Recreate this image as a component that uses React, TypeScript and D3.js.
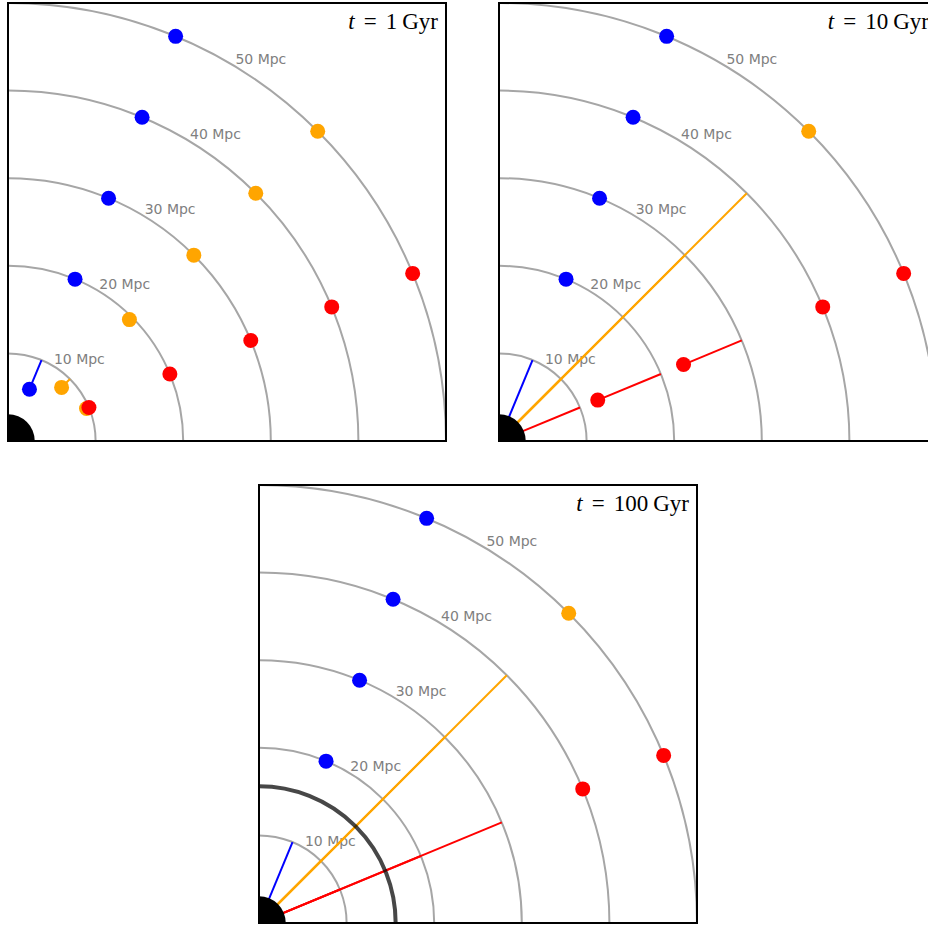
import React from 'react';
import * as d3 from 'd3';

// comoving distances of the source shells (Mpc)
const shellRadii = [10, 20, 30, 40, 50];
const shellLabels = ['10 Mpc', '20 Mpc', '30 Mpc', '40 Mpc', '50 Mpc'];

// direction of each light ray (degrees from the x axis)
const rayAngles = { blue: 67.5, orange: 45, red: 22.5 };
const rayColors = { blue: '#0000ff', orange: '#ffa500', red: '#ff0000' };

// photon position (Mpc) for each source shell, per panel; 0 = arrived
const photons1 = { blue: [6.4, 20, 30, 40, 50], orange: [8.65, 19.6, 30, 40, 50], red: [10, 20, 30, 40, 50] };
const photons10 = { blue: [0, 20, 30, 40, 50], orange: [0, 0, 0, 0, 50], red: [0, 12.2, 22.8, 40, 50] };
const photons100 = { blue: [0, 20, 30, 40, 50], orange: [0, 0, 0, 0, 50], red: [0, 0, 0, 40, 50] };

// stray photon drawn under the red one at 10 Mpc in the first panel
const extra1 = [{ color: 'orange', angle: 22.5, r: 9.7 }];

const panelTimes = ['1', '10', '100'];
const observerRadius = 3.05;
const horizon100 = 15.6;

const SIZE = 438;
const rScale = d3.scaleLinear().domain([0, 50]).range([0, SIZE]);
const LABEL_ANGLE = 58.8;

type Photons = { blue: number[]; orange: number[]; red: number[] };

function Panel({ x, y, time, photons, extra = [], horizon }: {
  x: number; y: number; time: string; photons: Photons;
  extra?: { color: string; angle: number; r: number }[]; horizon?: number;
}) {
  const ox = 0, oy = SIZE;
  const pt = (r: number, deg: number) => {
    const a = (deg * Math.PI) / 180;
    return [ox + rScale(r) * Math.cos(a), oy - rScale(r) * Math.sin(a)];
  };
  const arcPath = (r: number) => {
    const p = d3.path();
    p.arc(ox, oy, rScale(r), -Math.PI / 2, 0);
    return p.toString();
  };
  const clipId = `clip-${time}`;
  const keys = ['blue', 'orange', 'red'] as const;

  return (
    <g transform={`translate(${x},${y})`}>
      <defs>
        <clipPath id={clipId}><rect x={0} y={0} width={SIZE} height={SIZE} /></clipPath>
      </defs>
      <g clipPath={`url(#${clipId})`}>
        {shellRadii.map(r => (
          <path key={r} d={arcPath(r)} fill="none" stroke="#a6a6a6" strokeWidth={2} />
        ))}
        {shellRadii.map((r, i) => {
          const [tx, ty] = pt(r, LABEL_ANGLE);
          return (
            <text key={'l' + r} x={tx + 0.5} y={ty - 6} dominantBaseline="middle"
              fontFamily="DejaVu Sans" fontSize={14} fill="#808080">{shellLabels[i]}</text>
          );
        })}
        {keys.map(k => shellRadii.map((r, i) => {
          const pos = photons[k][i];
          if (pos >= r) return null;
          const [x1, y1] = pt(r, rayAngles[k]);
          const [x2, y2] = pt(pos, rayAngles[k]);
          return <line key={k + 'ln' + r} x1={x1} y1={y1} x2={x2} y2={y2} stroke={rayColors[k]} strokeWidth={2} />;
        }))}
        {extra.map((e, i) => {
          const [cx, cy] = pt(e.r, e.angle);
          return <circle key={'e' + i} cx={cx} cy={cy} r={7.5} fill={rayColors[e.color as 'orange']} />;
        })}
        {keys.map(k => shellRadii.map((r, i) => {
          const [cx, cy] = pt(photons[k][i], rayAngles[k]);
          return <circle key={k + 'pt' + r} cx={cx} cy={cy} r={7.5} fill={rayColors[k]} />;
        }))}
        <circle cx={ox} cy={oy} r={rScale(observerRadius)} fill="#000" />
        {horizon !== undefined && (
          <path d={arcPath(horizon)} fill="none" stroke="#000" strokeOpacity={0.72} strokeWidth={4} />
        )}
      </g>
      <rect x={0} y={0} width={SIZE} height={SIZE} fill="none" stroke="#000" strokeWidth={2} />
      <text x={SIZE - 8} y={26} textAnchor="end" fontFamily="Liberation Serif" fontSize={23} fill="#000">
        <tspan fontStyle="italic">t</tspan>
        <tspan dx={9}>=</tspan>
        <tspan dx={9}>{time}</tspan>
        <tspan dx={5}>Gyr</tspan>
      </text>
    </g>
  );
}

export default function App() {
  return (
    <svg width={928} height={926} style={{ display: 'block', position: 'absolute', left: 0, top: 0 }}>
      <Panel x={8} y={3} time={panelTimes[0]} photons={photons1} extra={extra1} />
      <Panel x={499} y={3} time={panelTimes[1]} photons={photons10} />
      <Panel x={259} y={485} time={panelTimes[2]} photons={photons100} horizon={horizon100} />
    </svg>
  );
}
